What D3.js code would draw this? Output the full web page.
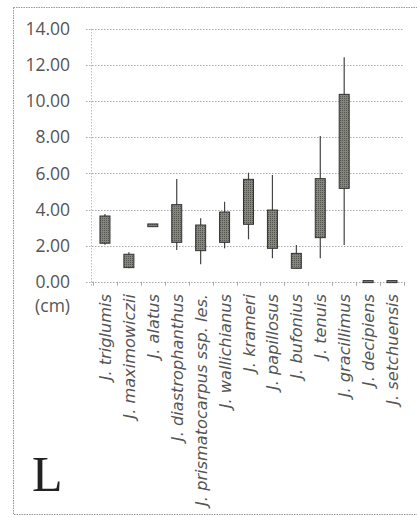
<!DOCTYPE html>
<html>
<head>
<meta charset="utf-8">
<script src="https://cdn.jsdelivr.net/npm/d3@7"></script>
<style>
  html, body { margin: 0; padding: 0; background: #fff; }
  svg { display: block; }
</style>
</head>
<body>
<svg id="chart" width="417" height="517"></svg>
<script>
// Leaf length ranges per species (cm): whisker low, box bottom, box top, whisker high
const species = [
  "J. triglumis", "J. maximowiczii", "J. alatus", "J. diastrophanthus",
  "J. prismatocarpus ssp. les.", "J. wallichianus", "J. krameri", "J. papillosus",
  "J. bufonius", "J. tenuis", "J. gracillimus", "J. decipiens", "J. setchuensis"
];
const lowValues   = [2.05, 0.75, 3.05, 1.76, 0.96, 1.85, 2.35, 1.30, 0.70, 1.30, 2.03, 0.00, 0.00];
const boxBottoms  = [2.13, 0.78, 3.05, 2.18, 1.72, 2.18, 3.18, 1.85, 0.74, 2.44, 5.17, 0.00, 0.00];
const boxTops     = [3.64, 1.52, 3.20, 4.27, 3.14, 3.86, 5.67, 3.97, 1.57, 5.71, 10.38, 0.06, 0.06];
const highValues  = [3.75, 1.63, 3.20, 5.69, 3.51, 4.43, 6.04, 5.91, 2.03, 8.07, 12.43, 0.06, 0.06];
const yTicks = [0, 2, 4, 6, 8, 10, 12, 14];

const svg = d3.select("#chart");

// Outer frame
svg.append("rect")
  .attr("x", 13.5).attr("y", 7.5).attr("width", 420).attr("height", 507)
  .attr("fill", "none").attr("stroke", "#999").attr("stroke-width", 1)
  .attr("stroke-dasharray", "1.5,1");

const x = d3.scaleBand().domain(species).range([93, 404]).paddingInner(0).paddingOuter(0);
const y = d3.scaleLinear().domain([0, 14]).range([281.7, 29]);

// Horizontal gridlines
svg.append("g")
  .selectAll("line").data(yTicks.slice(1)).join("line")
  .attr("x1", 86).attr("x2", 403)
  .attr("y1", d => Math.round(y(d)) + 0.5).attr("y2", d => Math.round(y(d)) + 0.5)
  .attr("stroke", "#aaa").attr("stroke-width", 1).attr("stroke-dasharray", "1.5,1.5");

// Y axis line
svg.append("line")
  .attr("x1", 91.5).attr("x2", 91.5).attr("y1", y(14)).attr("y2", y(0) + 4)
  .attr("stroke", "#bbb").attr("stroke-dasharray", "1.5,1.5");

// X axis line and category ticks
const xAxis = d3.axisBottom(x).tickSize(0).tickFormat("");
const gx = svg.append("g").attr("transform", `translate(0,${Math.round(y(0)) + 0.5})`).call(xAxis);
gx.select(".domain").attr("stroke", "#aaa").attr("stroke-dasharray", "1.5,1.5")
  .attr("d", `M86,0H403`);
svg.append("g")
  .selectAll("line").data(d3.range(species.length + 1)).join("line")
  .attr("x1", i => Math.round(93 + x.step() * i) + 0.5)
  .attr("x2", i => Math.round(93 + x.step() * i) + 0.5)
  .attr("y1", y(0)).attr("y2", y(0) + 4)
  .attr("stroke", "#aaa");

// Y tick labels
svg.append("g")
  .selectAll("text").data(yTicks).join("text")
  .attr("x", 70).attr("y", d => y(d))
  .attr("dy", "0.35em")
  .attr("text-anchor", "end")
  .attr("font-family", "Open Sans, sans-serif")
  .attr("font-size", 17.5)
  .attr("fill", "#555")
  .text(d => d3.format(".2f")(d));

svg.append("text")
  .attr("x", 70).attr("y", 306).attr("dy", "0.35em")
  .attr("text-anchor", "end")
  .attr("font-family", "Open Sans, sans-serif")
  .attr("font-size", 17.5)
  .attr("fill", "#555")
  .text("(cm)");

// Category labels, rotated
svg.append("g")
  .selectAll("text").data(species).join("text")
  .attr("transform", d => `translate(${x(d) + x.bandwidth() / 2 + 6},294) rotate(-90)`)
  .attr("text-anchor", "end")
  .attr("font-family", "DejaVu Sans, sans-serif")
  .attr("font-style", "italic")
  .attr("font-size", 16.2)
  .attr("fill", "#555")
  .text(d => d);

// Patterned fill for the boxes
const defs = svg.append("defs");
const pat = defs.append("pattern").attr("id", "dots")
  .attr("width", 2).attr("height", 2).attr("patternUnits", "userSpaceOnUse");
pat.append("rect").attr("width", 2).attr("height", 2).attr("fill", "#85857f");
pat.append("rect").attr("width", 1).attr("height", 1).attr("fill", "#55554f");

const boxW = 10;
const marks = svg.append("g");
species.forEach((s, i) => {
  const cx = x(s) + x.bandwidth() / 2;
  marks.append("line")
    .attr("x1", cx).attr("x2", cx)
    .attr("y1", y(highValues[i])).attr("y2", y(lowValues[i]))
    .attr("stroke", "#444").attr("stroke-width", 1.2);
  const top = y(boxTops[i]), bot = y(boxBottoms[i]);
  marks.append("rect")
    .attr("x", cx - boxW / 2).attr("width", boxW)
    .attr("y", top).attr("height", Math.max(bot - top, 2))
    .attr("fill", "url(#dots)").attr("stroke", "#333").attr("stroke-width", 1);
});

// Panel letter
svg.append("text")
  .attr("x", 32).attr("y", 491)
  .attr("font-family", "Liberation Serif, serif")
  .attr("font-size", 50)
  .attr("fill", "#222")
  .text("L");
</script>
</body>
</html>
